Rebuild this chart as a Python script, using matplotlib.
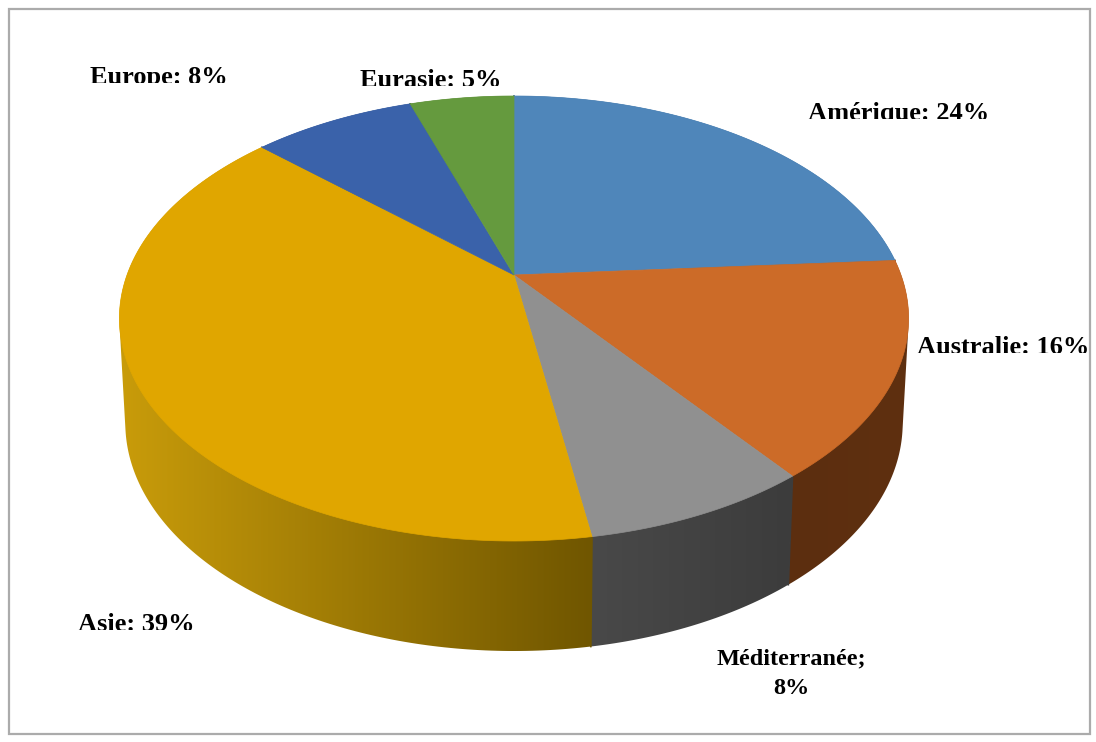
import numpy as np
import matplotlib
matplotlib.use("Agg")
import matplotlib.pyplot as plt
from matplotlib.colors import LinearSegmentedColormap
from matplotlib.patches import Polygon, Rectangle
from matplotlib.transforms import Bbox, TransformedBbox

# Slices, clockwise from 12 o'clock
regions = ["Amérique", "Australie", "Méditerranée", "Asie", "Europe", "Eurasie"]
shares = [23.9, 15.7, 7.8, 39.4, 8.05, 5.15]
top_colors = ["#4f86ba", "#cc6b28", "#909090", "#e0a600", "#3a62aa", "#659a3e"]
# wall colour at the left and right end of each slice
wall_left = ["#2f5a80", "#5c2e0f", "#494949", "#c99c0a", "#25406f", "#40652a"]
wall_right = ["#2f5a80", "#5f3010", "#3c3c3c", "#705600", "#25406f", "#40652a"]

# Labels as printed on the chart
label_texts = ["Amérique: 24%", "Australie: 16%", "Méditerranée;\n8%",
               "Asie: 39%", "Europe: 8%", "Eurasie: 5%"]
label_x = [899, 1003, 791, 136, 159, 431]
label_y = [120, 354, 694, 631, 84, 87]
label_clip = [119, 353, None, 630, 83, 86]
label_size = [19, 19, 17.5, 19, 19, 19]

CX, CY = 514, 275
RX, RY, PERSP = 387, 214, 0.1955
DEPTH = 103


def project(theta, lower=False):
    """Tilted circle through a simple perspective, theta clockwise from top."""
    xs = np.sin(theta)
    ys = np.cos(theta)
    w = 1 + PERSP * ys
    px = CX + RX * xs / w
    py = CY - RY * ys / w
    if lower:
        px = CX + (px - CX) * 0.985
        py = py + DEPTH + 7 * (-ys)
    return np.column_stack([px, py])


def hull(points):
    # monotone chain, the wall outline crosses itself otherwise
    pts = sorted(map(tuple, points))

    def half(seq):
        out = []
        for p in seq:
            while len(out) > 1 and (out[-1][0] - out[-2][0]) * (p[1] - out[-2][1]) \
                    - (out[-1][1] - out[-2][1]) * (p[0] - out[-2][0]) <= 0:
                out.pop()
            out.append(p)
        return out[:-1]

    return np.array(half(pts) + half(pts[::-1]))


fig = plt.figure(figsize=(10.96, 7.42), dpi=100)
ax = fig.add_axes([0, 0, 1, 1])
ax.axis("off")

# Outer frame
ax.add_patch(Rectangle((8.5, 8.5), 1081, 725, facecolor="white", edgecolor="#ababab", linewidth=1.6))

edges = np.cumsum([0] + shares) / sum(shares) * 2 * np.pi

# Side wall first, the top face covers whatever sits behind
for i in range(len(shares)):
    thetas = np.linspace(edges[i], edges[i + 1], 200)
    up = project(thetas)
    low = project(thetas, lower=True)
    outline = hull(np.vstack([up, low]))
    patch = Polygon(outline, closed=True, facecolor="none", edgecolor="none", zorder=2)
    ax.add_patch(patch)
    cmap = LinearSegmentedColormap.from_list("wall", [wall_left[i], wall_right[i]])
    x0, x1 = outline[:, 0].min(), outline[:, 0].max()
    y0, y1 = outline[:, 1].min(), outline[:, 1].max()
    im = ax.imshow(np.linspace(0, 1, 256)[None, :], cmap=cmap, extent=(x0, x1, y1, y0),
                   aspect="auto", zorder=2, interpolation="bilinear")
    im.set_clip_path(patch)
    # cover the light hairline between two neighbouring walls
    ax.plot([up[0, 0], low[0, 0]], [up[0, 1], low[0, 1]], color=wall_right[i], linewidth=1.2, zorder=2.5)

# Top face
for i in range(len(shares)):
    thetas = np.linspace(edges[i], edges[i + 1], 200)
    pts = np.vstack([[CX, CY], project(thetas)])
    ax.add_patch(Polygon(pts, closed=True, facecolor=top_colors[i], edgecolor=top_colors[i],
                         linewidth=0.5, zorder=3))

ax.set_xlim(0, 1096)
ax.set_ylim(742, 0)

# Labels, the flat bottoms are cut off like in the source image
for txt, x, y, clip, size in zip(label_texts, label_x, label_y, label_clip, label_size):
    t = ax.text(x, y, txt, family="Liberation Serif", fontweight="bold", fontsize=size,
                ha="center", va="baseline", color="black", linespacing=1.55, zorder=5)
    if clip is not None:
        t.set_clip_box(TransformedBbox(Bbox([[0, clip - 60], [1096, clip]]), ax.transData))
        t.set_clip_on(True)

fig.savefig("out.png", dpi=100)
